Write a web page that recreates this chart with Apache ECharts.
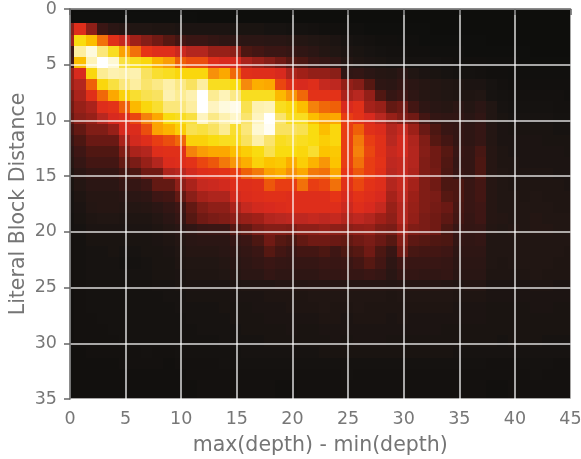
<!DOCTYPE html>
<html><head><meta charset="utf-8">
<script src="https://cdn.jsdelivr.net/npm/echarts@6/dist/echarts.min.js"></script>
<style>html,body{margin:0;padding:0;background:#fff}#c{width:581px;height:459px}</style>
</head><body><div id="c"></div>
<script>
const xTicks=[0,5,10,15,20,25,30,35,40,45];
const yTicks=[0,5,10,15,20,25,30,35];
const palette=['#0e0e0c','#151210','#211613','#2e1614','#3a1614','#501712','#701a14','#8a1f18','#a02018','#b82820','#d82a1e','#e63416','#ef6008','#f68a0c','#fca800','#fcc400','#f9dc10','#f9e260','#fdeea0','#fef6c8','#ffffff'];
const rows=[
[0,0,0,0,0,0,0,0,0,0,0,0,0,0,0,0,0,0,0,0,0,0,0,0,0,0,0,0,0,0,0,0,0,0,0,0,0,0,0,0,0,0,0,0,0,0],
[0,1,1,1,1,1,1,1,1,1,1,1,0,0,0,0,0,0,0,0,0,0,0,0,0,0,0,0,0,0,0,0,0,0,0,0,0,0,0,0,0,0,0,0,0,0],
[35,52,36,20,14,12,10,10,9,9,8,8,8,8,8,7,7,7,6,6,5,5,4,3,3,2,2,1,1,1,1,1,1,0,0,0,0,0,0,0,0,0,0,0,0,0],
[40,80,74,62,53,47,40,34,30,26,22,20,20,17,15,15,14,14,13,13,12,11,10,9,8,6,5,4,3,3,2,2,1,1,1,1,1,1,0,0,0,0,0,0,0,0],
[20,90,97,87,81,69,62,55,52,52,48,44,44,38,38,36,24,22,20,20,18,16,14,11,10,8,7,6,5,4,4,3,3,2,2,2,1,1,1,1,1,1,0,0,0,0],
[22,74,93,100,96,83,81,79,72,68,60,58,58,52,50,50,42,38,34,30,26,24,20,18,16,11,9,8,7,6,6,5,5,5,4,3,3,3,2,2,2,1,1,1,1,1],
[38,50,79,89,92,91,92,85,82,81,79,79,79,66,70,61,53,52,52,50,43,40,37,37,35,16,17,14,12,11,14,10,8,7,6,5,5,4,3,3,2,2,2,2,2,2],
[38,44,60,79,83,87,90,86,88,91,88,85,90,81,81,80,65,71,70,57,52,50,52,47,46,37,34,26,15,14,17,14,12,11,10,9,8,8,6,4,3,3,3,3,3,3],
[32,42,53,61,70,78,82,84,85,92,89,92,100,89,93,88,81,81,81,73,67,61,54,54,54,42,45,37,25,18,21,15,12,11,10,9,9,10,6,5,4,4,4,4,4,3],
[30,38,42,52,54,60,73,79,82,87,87,90,100,94,97,98,84,92,93,81,79,74,64,61,60,50,53,41,38,28,30,22,15,13,12,14,11,14,10,6,5,5,5,5,4,4],
[28,35,38,45,50,52,57,64,70,80,81,83,94,88,92,95,86,94,100,86,81,81,74,69,70,56,54,50,45,38,33,30,22,17,16,16,13,16,10,7,6,6,6,6,5,5],
[22,28,33,33,38,50,51,58,69,72,77,84,83,85,89,82,87,96,99,85,85,84,80,74,79,56,60,53,51,44,47,39,29,24,19,17,15,18,11,8,7,7,7,7,6,6],
[18,24,29,29,29,42,49,52,56,58,61,78,78,80,81,81,85,91,86,81,82,81,80,77,79,56,63,56,53,45,49,43,33,26,22,17,15,18,11,8,8,8,8,7,7,7],
[14,21,25,25,25,33,42,44,52,53,53,64,68,70,70,74,77,80,84,80,80,79,82,75,76,56,64,57,53,47,49,44,34,30,26,19,17,23,12,9,8,8,8,8,8,7],
[12,18,22,22,22,28,32,38,44,51,52,54,57,59,63,67,71,78,75,76,71,77,72,67,75,56,62,56,54,46,47,44,33,30,25,18,17,24,12,9,9,8,8,8,8,8],
[9,14,17,17,17,22,24,30,30,43,45,49,52,53,54,56,60,63,69,71,66,70,63,62,70,55,59,56,53,45,47,43,33,31,24,19,17,24,12,10,9,9,9,9,8,8],
[7,11,14,14,14,18,18,21,28,28,36,42,47,48,49,52,52,53,59,56,56,62,56,57,62,53,57,54,52,44,47,41,33,30,24,24,19,22,12,10,9,9,9,9,9,8],
[6,9,12,12,12,13,14,15,21,22,28,35,41,43,43,49,51,52,53,53,52,52,52,52,55,50,54,52,50,41,46,39,33,32,26,24,19,22,12,10,10,9,10,9,9,9],
[6,8,11,12,12,11,11,12,14,17,21,28,33,36,36,42,47,49,50,51,52,52,52,52,52,48,52,50,47,38,44,38,33,31,29,23,19,21,12,10,10,10,10,10,9,9],
[5,7,9,10,10,9,9,9,11,14,18,26,30,32,33,36,38,40,44,45,46,46,47,46,47,44,46,44,40,36,44,37,32,30,27,22,18,21,12,11,10,10,11,10,10,10],
[5,6,8,8,8,8,8,8,9,11,13,16,19,20,20,26,28,32,34,34,33,36,36,38,36,35,37,38,33,32,40,33,32,30,24,19,17,18,11,10,11,10,11,11,10,10],
[4,5,7,7,7,7,7,7,8,9,11,13,14,14,14,18,20,24,30,26,24,28,30,30,29,28,30,32,29,26,34,27,26,25,24,17,16,17,10,10,10,10,10,10,10,10],
[4,5,6,6,7,6,6,7,7,8,10,12,12,12,13,15,17,20,26,22,20,22,22,24,21,24,26,30,24,19,30,23,22,22,21,15,15,15,10,10,10,10,10,10,10,9],
[4,5,6,6,6,5,5,6,7,7,9,10,10,10,11,13,15,17,20,18,17,18,18,20,19,20,22,26,22,15,21,19,19,19,18,14,14,14,10,9,10,10,10,10,9,9],
[4,5,6,6,6,6,6,6,7,7,8,9,9,9,10,12,14,14,17,15,15,15,15,17,17,18,18,20,18,13,18,17,16,16,17,13,13,13,9,9,9,9,10,9,9,9],
[3,4,5,5,5,5,5,5,6,6,7,8,8,8,8,9,10,10,10,11,11,11,12,12,12,12,12,12,12,11,12,12,12,12,11,10,11,11,8,8,8,8,9,9,8,8],
[3,4,5,5,5,5,5,5,5,6,6,7,7,7,7,8,8,8,9,9,9,9,10,10,10,10,10,10,10,9,10,10,10,10,10,9,9,9,8,8,8,8,8,8,8,8],
[3,4,5,5,5,5,5,5,5,5,6,6,6,6,7,7,7,8,8,8,9,9,9,10,9,9,10,9,9,9,9,9,9,9,9,8,8,8,7,7,7,7,8,8,7,7],
[3,4,4,5,5,5,5,5,5,5,5,6,6,6,6,7,7,7,8,8,8,8,8,9,9,8,9,9,9,8,9,8,8,8,8,8,8,8,7,7,7,7,7,7,7,7],
[3,4,4,4,5,5,5,5,5,5,5,5,6,6,6,6,7,7,7,7,8,7,7,8,8,8,8,8,8,8,8,8,8,8,7,7,7,7,7,7,7,7,7,7,7,7],
[3,4,4,4,4,5,5,5,5,5,5,5,5,5,6,6,6,6,7,7,7,7,7,7,8,7,8,8,8,7,7,7,7,7,7,7,7,7,7,6,7,7,7,6,6,6],
[2,3,4,4,4,4,4,5,4,4,5,5,5,5,5,5,6,6,6,6,6,6,6,7,7,7,7,7,7,7,7,7,7,7,7,6,6,6,6,6,6,6,6,6,6,6],
[2,3,3,3,3,4,4,4,4,3,4,4,4,4,5,5,5,5,5,5,5,5,5,5,5,5,5,5,5,5,5,5,5,5,5,5,5,5,4,4,4,5,5,5,4,4],
[2,3,3,3,3,3,3,3,3,3,3,4,4,4,4,4,4,4,4,4,4,4,4,4,4,5,4,4,4,4,4,4,4,4,4,4,4,4,4,4,4,4,5,4,4,4],
[2,3,3,3,3,3,3,3,3,3,3,3,4,4,4,4,4,4,4,3,3,4,4,4,4,4,4,4,4,4,4,4,4,4,4,4,4,4,3,3,4,4,4,4,4,4],
[2,3,3,3,3,3,3,3,3,3,3,3,4,4,4,4,4,4,4,3,3,4,4,4,4,4,4,4,4,4,4,4,4,4,4,4,4,4,3,3,4,4,4,4,4,4]
];
const cells=[];
rows.forEach((row,r)=>row.forEach((v,c)=>cells.push([c,r,v])));
const font='"DejaVu Sans"';
const chart=echarts.init(document.getElementById('c'),null,{renderer:'canvas'});
const white={show:true,lineStyle:{color:'#ffffff',width:1.5,opacity:.85}};
chart.setOption({
 animation:false,backgroundColor:'#fff',
 grid:{left:70,right:10.5,top:9,bottom:60,containLabel:false,outerBoundsMode:'none'},
 visualMap:{show:false,min:0,max:100,dimension:2,seriesIndex:0,inRange:{color:palette}},
 xAxis:[{type:'value',min:0,max:45,interval:5,position:'bottom',zlevel:2,z:5,
   name:'max(depth) - min(depth)',nameLocation:'middle',nameGap:36,nameMoveOverlap:false,
   nameTextStyle:{fontFamily:font,fontSize:20.5,color:'#757575'},
   axisLine:{show:false},axisTick:{show:true,length:6,lineStyle:{color:'#666',width:1.5}},
   axisLabel:{fontFamily:font,fontSize:17.5,color:'#777',margin:11,showMinLabel:true,showMaxLabel:true,hideOverlap:false},
   splitLine:white},
  {type:'value',min:0,max:45,interval:5,position:'top',zlevel:2,z:5,
   axisLine:{show:true,onZero:false,lineStyle:{color:'#666',width:1.5}},axisTick:{show:false},axisLabel:{show:false},splitLine:{show:false}}],
 yAxis:{type:'value',min:0,max:35,interval:5,inverse:true,position:'left',zlevel:2,z:5,
   name:'Literal Block Distance',nameLocation:'middle',nameGap:41,nameRotate:90,nameMoveOverlap:false,
   nameTextStyle:{fontFamily:font,fontSize:20.5,color:'#757575'},
   axisLine:{show:true,onZero:false,lineStyle:{color:'#666',width:1.5}},axisTick:{show:true,length:6,lineStyle:{color:'#666',width:1.5}},
   axisLabel:{fontFamily:font,fontSize:17.5,color:'#777',margin:13,padding:[2,0,0,0],showMinLabel:true,showMaxLabel:true},
   splitLine:white},
 series:[{type:'custom',xAxisIndex:0,yAxisIndex:0,clip:true,progressive:0,silent:true,zlevel:1,
   encode:{x:0,y:1},data:cells,
   renderItem(params,api){
     const p=api.coord([api.value(0)-0.6,api.value(1)-0.7]);
     const q=api.coord([api.value(0)+0.4,api.value(1)+0.3]);
     const x0=Math.round(p[0]),y0=Math.round(p[1]);
     const f=api.visual('color');
     return {type:'rect',shape:{x:x0,y:y0,width:Math.round(q[0])-x0,height:Math.round(q[1])-y0},style:{fill:f}};
   }}]
});
const layer=chart.getZr().painter.getLayer(1);
if(layer&&layer.dom)layer.dom.style.filter='blur(0.7px)';
</script></body></html>
